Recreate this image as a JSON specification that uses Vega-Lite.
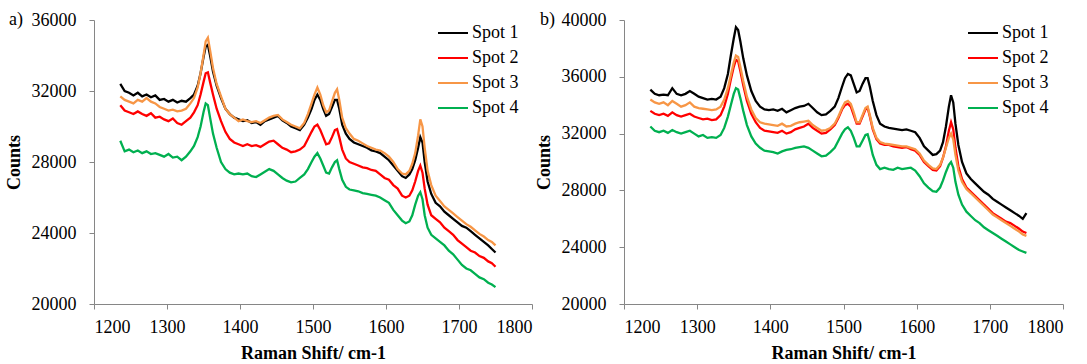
{
  "$schema": "https://vega.github.io/schema/vega-lite/v6.json",
  "padding": {"left": 5, "top": 11, "right": 5, "bottom": 0},
  "bounds": "flush",
  "spacing": 92,
  "config": {
    "view": {"stroke": null},
    "style": {"guide-label": {"font": "Liberation Serif"}, "guide-title": {"font": "Liberation Serif"}},
    "axis": {"labelFont": "Liberation Serif", "labelFontSize": 18, "labelColor": "#000000", "titleFont": "Liberation Serif", "titleFontSize": 18, "titleFontWeight": "bold", "titleColor": "#000000", "domainColor": "#868686", "tickColor": "#868686", "tickSize": 5, "grid": false},
    "legend": {"orient": "none", "title": null, "symbolType": "stroke", "symbolStrokeWidth": 2, "symbolSize": 900, "labelFont": "Liberation Serif", "labelFontSize": 18, "labelColor": "#000000", "labelOffset": 3, "rowPadding": -5}
  },
  "datasets": {
    "a": [
      {"x":1236,"Spot 1":32400,"Spot 2":31200,"Spot 3":31700,"Spot 4":29200},
      {"x":1242,"Spot 1":32000,"Spot 2":30900,"Spot 3":31500,"Spot 4":28600},
      {"x":1248,"Spot 1":31900,"Spot 2":30800,"Spot 3":31400,"Spot 4":28700},
      {"x":1254,"Spot 1":31750,"Spot 2":30700,"Spot 3":31300,"Spot 4":28550},
      {"x":1260,"Spot 1":31900,"Spot 2":30850,"Spot 3":31500,"Spot 4":28650},
      {"x":1266,"Spot 1":31700,"Spot 2":30700,"Spot 3":31400,"Spot 4":28500},
      {"x":1272,"Spot 1":31800,"Spot 2":30600,"Spot 3":31600,"Spot 4":28600},
      {"x":1278,"Spot 1":31650,"Spot 2":30750,"Spot 3":31400,"Spot 4":28450},
      {"x":1284,"Spot 1":31750,"Spot 2":30500,"Spot 3":31300,"Spot 4":28500},
      {"x":1290,"Spot 1":31500,"Spot 2":30550,"Spot 3":31100,"Spot 4":28400},
      {"x":1296,"Spot 1":31550,"Spot 2":30400,"Spot 3":31000,"Spot 4":28300},
      {"x":1302,"Spot 1":31400,"Spot 2":30300,"Spot 3":30900,"Spot 4":28450},
      {"x":1308,"Spot 1":31500,"Spot 2":30450,"Spot 3":30950,"Spot 4":28250},
      {"x":1314,"Spot 1":31350,"Spot 2":30200,"Spot 3":30850,"Spot 4":28300},
      {"x":1320,"Spot 1":31450,"Spot 2":30100,"Spot 3":30900,"Spot 4":28100},
      {"x":1326,"Spot 1":31400,"Spot 2":30300,"Spot 3":31000,"Spot 4":28300},
      {"x":1332,"Spot 1":31600,"Spot 2":30500,"Spot 3":31300,"Spot 4":28600},
      {"x":1337,"Spot 1":31800,"Spot 2":30800,"Spot 3":31600,"Spot 4":28900},
      {"x":1342,"Spot 1":32300,"Spot 2":31200,"Spot 3":32200,"Spot 4":29400},
      {"x":1346,"Spot 1":33000,"Spot 2":31800,"Spot 3":33000,"Spot 4":30000},
      {"x":1350,"Spot 1":33900,"Spot 2":32500,"Spot 3":34000,"Spot 4":30800},
      {"x":1353,"Spot 1":34500,"Spot 2":33000,"Spot 3":34800,"Spot 4":31300},
      {"x":1356,"Spot 1":34600,"Spot 2":33050,"Spot 3":35000,"Spot 4":31200},
      {"x":1359,"Spot 1":34000,"Spot 2":32500,"Spot 3":34300,"Spot 4":30500},
      {"x":1363,"Spot 1":33100,"Spot 2":31800,"Spot 3":33300,"Spot 4":29600},
      {"x":1368,"Spot 1":32300,"Spot 2":31000,"Spot 3":32400,"Spot 4":28800},
      {"x":1374,"Spot 1":31600,"Spot 2":30300,"Spot 3":31700,"Spot 4":28000},
      {"x":1380,"Spot 1":31000,"Spot 2":29700,"Spot 3":31000,"Spot 4":27600},
      {"x":1386,"Spot 1":30700,"Spot 2":29300,"Spot 3":30700,"Spot 4":27400},
      {"x":1392,"Spot 1":30500,"Spot 2":29100,"Spot 3":30500,"Spot 4":27300},
      {"x":1398,"Spot 1":30400,"Spot 2":29000,"Spot 3":30300,"Spot 4":27350},
      {"x":1404,"Spot 1":30300,"Spot 2":28900,"Spot 3":30400,"Spot 4":27300},
      {"x":1410,"Spot 1":30350,"Spot 2":29000,"Spot 3":30300,"Spot 4":27350},
      {"x":1416,"Spot 1":30200,"Spot 2":28900,"Spot 3":30250,"Spot 4":27200},
      {"x":1422,"Spot 1":30250,"Spot 2":28950,"Spot 3":30300,"Spot 4":27150},
      {"x":1428,"Spot 1":30100,"Spot 2":28850,"Spot 3":30200,"Spot 4":27300},
      {"x":1434,"Spot 1":30300,"Spot 2":29000,"Spot 3":30350,"Spot 4":27450},
      {"x":1440,"Spot 1":30400,"Spot 2":29150,"Spot 3":30500,"Spot 4":27600},
      {"x":1446,"Spot 1":30500,"Spot 2":29200,"Spot 3":30600,"Spot 4":27500},
      {"x":1452,"Spot 1":30600,"Spot 2":29000,"Spot 3":30650,"Spot 4":27300},
      {"x":1458,"Spot 1":30350,"Spot 2":28800,"Spot 3":30400,"Spot 4":27100},
      {"x":1464,"Spot 1":30200,"Spot 2":28700,"Spot 3":30250,"Spot 4":26950},
      {"x":1470,"Spot 1":30000,"Spot 2":28550,"Spot 3":30100,"Spot 4":26850},
      {"x":1476,"Spot 1":29900,"Spot 2":28600,"Spot 3":30000,"Spot 4":26900},
      {"x":1482,"Spot 1":29800,"Spot 2":28700,"Spot 3":29900,"Spot 4":27100},
      {"x":1488,"Spot 1":30100,"Spot 2":28900,"Spot 3":30200,"Spot 4":27300},
      {"x":1493,"Spot 1":30500,"Spot 2":29300,"Spot 3":30700,"Spot 4":27600},
      {"x":1498,"Spot 1":31000,"Spot 2":29700,"Spot 3":31300,"Spot 4":28000},
      {"x":1502,"Spot 1":31500,"Spot 2":30000,"Spot 3":31800,"Spot 4":28300},
      {"x":1506,"Spot 1":31800,"Spot 2":30100,"Spot 3":32200,"Spot 4":28500},
      {"x":1510,"Spot 1":31500,"Spot 2":29800,"Spot 3":31800,"Spot 4":28200},
      {"x":1514,"Spot 1":31000,"Spot 2":29400,"Spot 3":31200,"Spot 4":27800},
      {"x":1518,"Spot 1":30600,"Spot 2":29000,"Spot 3":30800,"Spot 4":27400},
      {"x":1522,"Spot 1":30700,"Spot 2":29050,"Spot 3":30900,"Spot 4":27350},
      {"x":1526,"Spot 1":31100,"Spot 2":29400,"Spot 3":31400,"Spot 4":27700},
      {"x":1530,"Spot 1":31500,"Spot 2":29800,"Spot 3":31900,"Spot 4":28000},
      {"x":1533,"Spot 1":31500,"Spot 2":29850,"Spot 3":32100,"Spot 4":28100},
      {"x":1536,"Spot 1":31000,"Spot 2":29400,"Spot 3":31500,"Spot 4":27600},
      {"x":1540,"Spot 1":30100,"Spot 2":28700,"Spot 3":30500,"Spot 4":27000},
      {"x":1545,"Spot 1":29600,"Spot 2":28200,"Spot 3":29900,"Spot 4":26600},
      {"x":1550,"Spot 1":29300,"Spot 2":28000,"Spot 3":29600,"Spot 4":26450},
      {"x":1556,"Spot 1":29100,"Spot 2":27900,"Spot 3":29300,"Spot 4":26400},
      {"x":1562,"Spot 1":29000,"Spot 2":27800,"Spot 3":29200,"Spot 4":26350},
      {"x":1568,"Spot 1":28900,"Spot 2":27700,"Spot 3":29050,"Spot 4":26250},
      {"x":1574,"Spot 1":28800,"Spot 2":27650,"Spot 3":28900,"Spot 4":26200},
      {"x":1580,"Spot 1":28650,"Spot 2":27550,"Spot 3":28800,"Spot 4":26150},
      {"x":1586,"Spot 1":28600,"Spot 2":27500,"Spot 3":28700,"Spot 4":26100},
      {"x":1592,"Spot 1":28500,"Spot 2":27300,"Spot 3":28650,"Spot 4":26000},
      {"x":1598,"Spot 1":28300,"Spot 2":27100,"Spot 3":28500,"Spot 4":25850},
      {"x":1604,"Spot 1":28100,"Spot 2":27000,"Spot 3":28300,"Spot 4":25700},
      {"x":1610,"Spot 1":27800,"Spot 2":26700,"Spot 3":28000,"Spot 4":25300},
      {"x":1616,"Spot 1":27500,"Spot 2":26500,"Spot 3":27600,"Spot 4":25000},
      {"x":1622,"Spot 1":27200,"Spot 2":26100,"Spot 3":27350,"Spot 4":24700},
      {"x":1627,"Spot 1":27100,"Spot 2":26000,"Spot 3":27300,"Spot 4":24550},
      {"x":1632,"Spot 1":27300,"Spot 2":26100,"Spot 3":27500,"Spot 4":24650},
      {"x":1636,"Spot 1":27600,"Spot 2":26400,"Spot 3":27900,"Spot 4":25000},
      {"x":1640,"Spot 1":28100,"Spot 2":26900,"Spot 3":28500,"Spot 4":25600},
      {"x":1644,"Spot 1":28800,"Spot 2":27500,"Spot 3":29500,"Spot 4":26100},
      {"x":1647,"Spot 1":29400,"Spot 2":27800,"Spot 3":30400,"Spot 4":26300},
      {"x":1650,"Spot 1":29100,"Spot 2":27400,"Spot 3":30000,"Spot 4":25900},
      {"x":1653,"Spot 1":28000,"Spot 2":26500,"Spot 3":28800,"Spot 4":25000},
      {"x":1657,"Spot 1":26900,"Spot 2":25600,"Spot 3":27500,"Spot 4":24300},
      {"x":1662,"Spot 1":26200,"Spot 2":25000,"Spot 3":26700,"Spot 4":23900},
      {"x":1668,"Spot 1":25700,"Spot 2":24800,"Spot 3":26100,"Spot 4":23700},
      {"x":1674,"Spot 1":25500,"Spot 2":24600,"Spot 3":25800,"Spot 4":23500},
      {"x":1680,"Spot 1":25200,"Spot 2":24300,"Spot 3":25500,"Spot 4":23300},
      {"x":1686,"Spot 1":25000,"Spot 2":24100,"Spot 3":25300,"Spot 4":23000},
      {"x":1692,"Spot 1":24800,"Spot 2":23900,"Spot 3":25100,"Spot 4":22800},
      {"x":1698,"Spot 1":24600,"Spot 2":23600,"Spot 3":24900,"Spot 4":22500},
      {"x":1704,"Spot 1":24400,"Spot 2":23400,"Spot 3":24700,"Spot 4":22200},
      {"x":1710,"Spot 1":24300,"Spot 2":23200,"Spot 3":24500,"Spot 4":22000},
      {"x":1716,"Spot 1":24100,"Spot 2":23000,"Spot 3":24350,"Spot 4":21900},
      {"x":1722,"Spot 1":23900,"Spot 2":22900,"Spot 3":24150,"Spot 4":21700},
      {"x":1728,"Spot 1":23700,"Spot 2":22700,"Spot 3":23950,"Spot 4":21500},
      {"x":1734,"Spot 1":23500,"Spot 2":22600,"Spot 3":23800,"Spot 4":21400},
      {"x":1740,"Spot 1":23300,"Spot 2":22400,"Spot 3":23600,"Spot 4":21200},
      {"x":1745,"Spot 1":23100,"Spot 2":22300,"Spot 3":23500,"Spot 4":21100},
      {"x":1750,"Spot 1":22900,"Spot 2":22100,"Spot 3":23300,"Spot 4":20950}
    ],
    "b": [
      {"x":1236,"Spot 1":35100,"Spot 2":33600,"Spot 3":34400,"Spot 4":32500},
      {"x":1242,"Spot 1":34800,"Spot 2":33400,"Spot 3":34200,"Spot 4":32200},
      {"x":1248,"Spot 1":34700,"Spot 2":33300,"Spot 3":34100,"Spot 4":32100},
      {"x":1254,"Spot 1":34750,"Spot 2":33400,"Spot 3":34200,"Spot 4":32200},
      {"x":1260,"Spot 1":34700,"Spot 2":33250,"Spot 3":34000,"Spot 4":32050},
      {"x":1266,"Spot 1":35200,"Spot 2":33500,"Spot 3":34300,"Spot 4":32250},
      {"x":1272,"Spot 1":34800,"Spot 2":33300,"Spot 3":34100,"Spot 4":32100},
      {"x":1278,"Spot 1":34700,"Spot 2":33200,"Spot 3":33900,"Spot 4":32000},
      {"x":1284,"Spot 1":34800,"Spot 2":33300,"Spot 3":34000,"Spot 4":32100},
      {"x":1290,"Spot 1":35000,"Spot 2":33400,"Spot 3":34200,"Spot 4":32200},
      {"x":1296,"Spot 1":34800,"Spot 2":33200,"Spot 3":33900,"Spot 4":32000},
      {"x":1302,"Spot 1":34600,"Spot 2":33100,"Spot 3":33800,"Spot 4":31800},
      {"x":1308,"Spot 1":34500,"Spot 2":33000,"Spot 3":33750,"Spot 4":31900},
      {"x":1314,"Spot 1":34400,"Spot 2":33050,"Spot 3":33700,"Spot 4":31700},
      {"x":1320,"Spot 1":34450,"Spot 2":32950,"Spot 3":33650,"Spot 4":31750},
      {"x":1326,"Spot 1":34400,"Spot 2":33000,"Spot 3":33700,"Spot 4":31700},
      {"x":1332,"Spot 1":34600,"Spot 2":33300,"Spot 3":33900,"Spot 4":31900},
      {"x":1337,"Spot 1":35200,"Spot 2":33900,"Spot 3":34400,"Spot 4":32400},
      {"x":1342,"Spot 1":36200,"Spot 2":34800,"Spot 3":35200,"Spot 4":33200},
      {"x":1346,"Spot 1":37500,"Spot 2":35800,"Spot 3":36100,"Spot 4":34000},
      {"x":1350,"Spot 1":38700,"Spot 2":36700,"Spot 3":37000,"Spot 4":34800},
      {"x":1353,"Spot 1":39500,"Spot 2":37200,"Spot 3":37500,"Spot 4":35200},
      {"x":1356,"Spot 1":39300,"Spot 2":37100,"Spot 3":37400,"Spot 4":35100},
      {"x":1359,"Spot 1":38500,"Spot 2":36400,"Spot 3":36700,"Spot 4":34500},
      {"x":1363,"Spot 1":37300,"Spot 2":35400,"Spot 3":35700,"Spot 4":33600},
      {"x":1368,"Spot 1":36100,"Spot 2":34300,"Spot 3":34600,"Spot 4":32600},
      {"x":1374,"Spot 1":35000,"Spot 2":33400,"Spot 3":33700,"Spot 4":31800},
      {"x":1380,"Spot 1":34300,"Spot 2":32800,"Spot 3":33100,"Spot 4":31300},
      {"x":1386,"Spot 1":33900,"Spot 2":32400,"Spot 3":32800,"Spot 4":31000},
      {"x":1392,"Spot 1":33700,"Spot 2":32200,"Spot 3":32700,"Spot 4":30800},
      {"x":1398,"Spot 1":33650,"Spot 2":32150,"Spot 3":32650,"Spot 4":30750},
      {"x":1404,"Spot 1":33700,"Spot 2":32100,"Spot 3":32600,"Spot 4":30700},
      {"x":1410,"Spot 1":33600,"Spot 2":32050,"Spot 3":32550,"Spot 4":30600},
      {"x":1416,"Spot 1":33750,"Spot 2":32200,"Spot 3":32700,"Spot 4":30750},
      {"x":1422,"Spot 1":33500,"Spot 2":32000,"Spot 3":32500,"Spot 4":30850},
      {"x":1428,"Spot 1":33650,"Spot 2":32100,"Spot 3":32550,"Spot 4":30900},
      {"x":1434,"Spot 1":33800,"Spot 2":32300,"Spot 3":32700,"Spot 4":31000},
      {"x":1440,"Spot 1":33900,"Spot 2":32400,"Spot 3":32800,"Spot 4":31050},
      {"x":1446,"Spot 1":33950,"Spot 2":32500,"Spot 3":32850,"Spot 4":31100},
      {"x":1452,"Spot 1":34100,"Spot 2":32700,"Spot 3":32900,"Spot 4":31000},
      {"x":1458,"Spot 1":33800,"Spot 2":32400,"Spot 3":32600,"Spot 4":30800},
      {"x":1464,"Spot 1":33500,"Spot 2":32200,"Spot 3":32400,"Spot 4":30600},
      {"x":1470,"Spot 1":33300,"Spot 2":32000,"Spot 3":32200,"Spot 4":30400},
      {"x":1476,"Spot 1":33350,"Spot 2":32050,"Spot 3":32250,"Spot 4":30450},
      {"x":1482,"Spot 1":33600,"Spot 2":32300,"Spot 3":32400,"Spot 4":30700},
      {"x":1488,"Spot 1":33900,"Spot 2":32600,"Spot 3":32700,"Spot 4":31000},
      {"x":1493,"Spot 1":34500,"Spot 2":33100,"Spot 3":33200,"Spot 4":31500},
      {"x":1498,"Spot 1":35300,"Spot 2":33700,"Spot 3":33800,"Spot 4":32000},
      {"x":1502,"Spot 1":35900,"Spot 2":34000,"Spot 3":34200,"Spot 4":32300},
      {"x":1506,"Spot 1":36200,"Spot 2":34100,"Spot 3":34300,"Spot 4":32450},
      {"x":1510,"Spot 1":36100,"Spot 2":33900,"Spot 3":34100,"Spot 4":32200},
      {"x":1514,"Spot 1":35500,"Spot 2":33300,"Spot 3":33500,"Spot 4":31700},
      {"x":1518,"Spot 1":34900,"Spot 2":32700,"Spot 3":32800,"Spot 4":31100},
      {"x":1522,"Spot 1":35000,"Spot 2":32700,"Spot 3":32800,"Spot 4":31100},
      {"x":1526,"Spot 1":35500,"Spot 2":33200,"Spot 3":33300,"Spot 4":31500},
      {"x":1530,"Spot 1":35900,"Spot 2":33700,"Spot 3":33800,"Spot 4":31900},
      {"x":1533,"Spot 1":35900,"Spot 2":33800,"Spot 3":33900,"Spot 4":31950},
      {"x":1536,"Spot 1":35300,"Spot 2":33200,"Spot 3":33300,"Spot 4":31400},
      {"x":1540,"Spot 1":34300,"Spot 2":32300,"Spot 3":32400,"Spot 4":30500},
      {"x":1545,"Spot 1":33300,"Spot 2":31600,"Spot 3":31700,"Spot 4":29800},
      {"x":1550,"Spot 1":32700,"Spot 2":31300,"Spot 3":31400,"Spot 4":29500},
      {"x":1556,"Spot 1":32500,"Spot 2":31200,"Spot 3":31300,"Spot 4":29600},
      {"x":1562,"Spot 1":32400,"Spot 2":31200,"Spot 3":31250,"Spot 4":29500},
      {"x":1568,"Spot 1":32350,"Spot 2":31100,"Spot 3":31200,"Spot 4":29450},
      {"x":1574,"Spot 1":32300,"Spot 2":31050,"Spot 3":31150,"Spot 4":29600},
      {"x":1580,"Spot 1":32250,"Spot 2":31000,"Spot 3":31100,"Spot 4":29500},
      {"x":1586,"Spot 1":32300,"Spot 2":31050,"Spot 3":31100,"Spot 4":29550},
      {"x":1592,"Spot 1":32200,"Spot 2":30900,"Spot 3":31000,"Spot 4":29600},
      {"x":1598,"Spot 1":32100,"Spot 2":30800,"Spot 3":30900,"Spot 4":29400},
      {"x":1604,"Spot 1":31700,"Spot 2":30500,"Spot 3":30600,"Spot 4":29000},
      {"x":1610,"Spot 1":31100,"Spot 2":30000,"Spot 3":30100,"Spot 4":28500},
      {"x":1616,"Spot 1":30800,"Spot 2":29700,"Spot 3":29800,"Spot 4":28200},
      {"x":1622,"Spot 1":30500,"Spot 2":29450,"Spot 3":29550,"Spot 4":27950},
      {"x":1627,"Spot 1":30550,"Spot 2":29400,"Spot 3":29500,"Spot 4":27900},
      {"x":1632,"Spot 1":30800,"Spot 2":29700,"Spot 3":29800,"Spot 4":28200},
      {"x":1636,"Spot 1":31400,"Spot 2":30300,"Spot 3":30300,"Spot 4":28700},
      {"x":1640,"Spot 1":32500,"Spot 2":31100,"Spot 3":31000,"Spot 4":29300},
      {"x":1644,"Spot 1":33900,"Spot 2":32200,"Spot 3":31700,"Spot 4":29800},
      {"x":1647,"Spot 1":34700,"Spot 2":32800,"Spot 3":32000,"Spot 4":30000},
      {"x":1650,"Spot 1":34200,"Spot 2":32300,"Spot 3":31600,"Spot 4":29600},
      {"x":1653,"Spot 1":32700,"Spot 2":31000,"Spot 3":30500,"Spot 4":28600},
      {"x":1657,"Spot 1":31200,"Spot 2":29700,"Spot 3":29400,"Spot 4":27700},
      {"x":1662,"Spot 1":30000,"Spot 2":28800,"Spot 3":28600,"Spot 4":27000},
      {"x":1668,"Spot 1":29200,"Spot 2":28200,"Spot 3":28100,"Spot 4":26500},
      {"x":1674,"Spot 1":28800,"Spot 2":27900,"Spot 3":27800,"Spot 4":26200},
      {"x":1680,"Spot 1":28500,"Spot 2":27600,"Spot 3":27500,"Spot 4":25900},
      {"x":1686,"Spot 1":28200,"Spot 2":27300,"Spot 3":27200,"Spot 4":25700},
      {"x":1692,"Spot 1":27900,"Spot 2":27000,"Spot 3":26900,"Spot 4":25400},
      {"x":1698,"Spot 1":27700,"Spot 2":26700,"Spot 3":26600,"Spot 4":25200},
      {"x":1704,"Spot 1":27400,"Spot 2":26400,"Spot 3":26300,"Spot 4":25000},
      {"x":1710,"Spot 1":27200,"Spot 2":26200,"Spot 3":26100,"Spot 4":24800},
      {"x":1716,"Spot 1":27000,"Spot 2":26000,"Spot 3":25900,"Spot 4":24600},
      {"x":1722,"Spot 1":26800,"Spot 2":25800,"Spot 3":25700,"Spot 4":24400},
      {"x":1728,"Spot 1":26600,"Spot 2":25700,"Spot 3":25500,"Spot 4":24200},
      {"x":1734,"Spot 1":26400,"Spot 2":25500,"Spot 3":25300,"Spot 4":24000},
      {"x":1740,"Spot 1":26200,"Spot 2":25300,"Spot 3":25100,"Spot 4":23800},
      {"x":1745,"Spot 1":26000,"Spot 2":25100,"Spot 3":24900,"Spot 4":23700},
      {"x":1750,"Spot 1":26400,"Spot 2":25000,"Spot 3":24800,"Spot 4":23600}
    ],
    "labels": [{"panel": "a)", "x": 1200, "y": 36000}, {"panel": "b)", "x": 1200, "y": 40000}]
  },
  "resolve": {"scale": {"color": "independent", "y": "independent"}, "legend": {"color": "independent"}},
  "hconcat": [
    {
      "width": 438,
      "height": 284,
      "layer": [
        {
          "data": {"name": "a"},
          "transform": [{"fold": ["Spot 1", "Spot 2", "Spot 3", "Spot 4"], "as": ["series", "counts"]}],
          "mark": {"type": "line", "strokeWidth": 2.3},
          "encoding": {
            "x": {"field": "x", "type": "quantitative", "scale": {"domain": [1200, 1800], "nice": false}, "axis": {"values": [1200, 1300, 1400, 1500, 1600, 1700, 1800], "format": "d", "title": "Raman Shift/ cm-1", "labelFont": "Liberation Serif", "titleFont": "Liberation Serif", "labelPadding": 9, "titlePadding": 8}},
            "y": {"field": "counts", "type": "quantitative", "scale": {"domain": [20000, 36000], "nice": false, "zero": false}, "axis": {"values": [20000, 24000, 28000, 32000, 36000], "format": "d", "title": "Counts", "labelFont": "Liberation Serif", "titleFont": "Liberation Serif", "labelPadding": 13, "titlePadding": 8}},
            "color": {"field": "series", "type": "nominal", "scale": {"domain": ["Spot 1", "Spot 2", "Spot 3", "Spot 4"], "range": ["#000000", "#FF0000", "#F79646", "#00B050"]}, "legend": {"orient": "none", "legendX": 343, "legendY": -3, "labelFont": "Liberation Serif"}}
          }
        },
        {
          "data": {"name": "labels"},
          "transform": [{"filter": "datum.panel === 'a)'"}],
          "mark": {"type": "text", "align": "left", "baseline": "middle", "dx": -85, "fontSize": 18, "font": "Liberation Serif", "color": "#000000"},
          "encoding": {
            "x": {"field": "x", "type": "quantitative"},
            "y": {"field": "y", "type": "quantitative"},
            "text": {"field": "panel"}
          }
        }
      ]
    },
    {
      "width": 439,
      "height": 284,
      "layer": [
        {
          "data": {"name": "b"},
          "transform": [{"fold": ["Spot 1", "Spot 2", "Spot 3", "Spot 4"], "as": ["series", "counts"]}],
          "mark": {"type": "line", "strokeWidth": 2.3},
          "encoding": {
            "x": {"field": "x", "type": "quantitative", "scale": {"domain": [1200, 1800], "nice": false}, "axis": {"values": [1200, 1300, 1400, 1500, 1600, 1700, 1800], "format": "d", "title": "Raman Shift/ cm-1", "labelFont": "Liberation Serif", "titleFont": "Liberation Serif", "labelPadding": 9, "titlePadding": 8}},
            "y": {"field": "counts", "type": "quantitative", "scale": {"domain": [20000, 40000], "nice": false, "zero": false}, "axis": {"values": [20000, 24000, 28000, 32000, 36000, 40000], "format": "d", "title": "Counts", "labelFont": "Liberation Serif", "titleFont": "Liberation Serif", "labelPadding": 13, "titlePadding": 8}},
            "color": {"field": "series", "type": "nominal", "scale": {"domain": ["Spot 1", "Spot 2", "Spot 3", "Spot 4"], "range": ["#000000", "#FF0000", "#F79646", "#00B050"]}, "legend": {"orient": "none", "legendX": 343, "legendY": -3, "labelFont": "Liberation Serif"}}
          }
        },
        {
          "data": {"name": "labels"},
          "transform": [{"filter": "datum.panel === 'b)'"}],
          "mark": {"type": "text", "align": "left", "baseline": "middle", "dx": -84, "fontSize": 18, "font": "Liberation Serif", "color": "#000000"},
          "encoding": {
            "x": {"field": "x", "type": "quantitative"},
            "y": {"field": "y", "type": "quantitative"},
            "text": {"field": "panel"}
          }
        }
      ]
    }
  ]
}
